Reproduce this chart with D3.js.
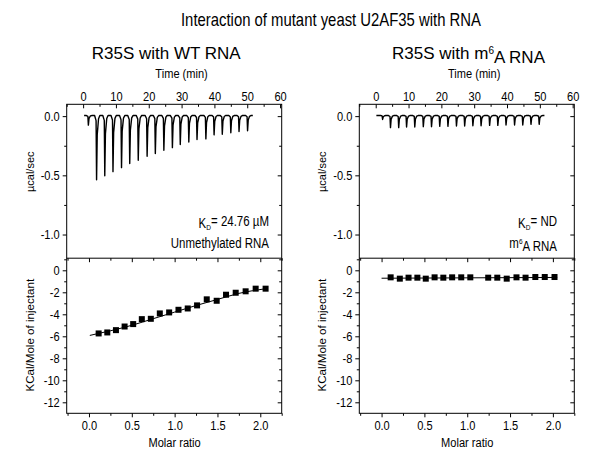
<!DOCTYPE html>
<html lang="en">
<head>
<meta charset="utf-8">
<title>ITC</title>
<script src="https://d3js.org/d3.v7.min.js"></script>
<style>
  body { margin: 0; background: #fff; }
  svg { display: block; }
</style>
</head>
<body>
<script>
// ---- data ----
var timeTicks = [0, 10, 20, 30, 40, 50, 60];
var timeMinor = [-5, 5, 15, 25, 35, 45, 55];
var powerTicks = [0, -0.5, -1.0];
var powerMinor = [-0.25, -0.75];
var heatTicks = [0, -2, -4, -6, -8, -10, -12];
var heatMinor = [1, -1, -3, -5, -7, -9, -11];
var ratioTicks = [0, 0.5, 1.0, 1.5, 2.0];
var ratioMinor = [-0.25, 0.25, 0.75, 1.25, 1.75, 2.25];

// WT RNA raw trace: injection times (min) and peak power (ucal/sec)
var wtInjTime = [1.6, 4.1, 6.6, 9.1, 11.7, 14.2, 16.8, 19.5, 22.0, 24.6, 27.2, 29.6, 32.2, 34.7, 37.4, 39.9, 42.4, 45.0, 47.5, 50.1];
var wtPeak = [-0.076, -0.537, -0.503, -0.469, -0.435, -0.401, -0.373, -0.339, -0.316, -0.288, -0.266, -0.24, -0.218, -0.198, -0.192, -0.158, -0.153, -0.141, -0.130, -0.124];
// WT RNA integrated heats
var wtRatio = [0.113, 0.214, 0.315, 0.416, 0.516, 0.617, 0.722, 0.827, 0.936, 1.045, 1.153, 1.262, 1.375, 1.491, 1.600, 1.713, 1.829, 1.946, 2.062];
var wtHeat = [-5.74, -5.65, -5.44, -5.11, -4.89, -4.44, -4.41, -3.92, -3.83, -3.59, -3.47, -3.19, -2.64, -2.77, -2.22, -2.04, -1.91, -1.67, -1.67];
var wtFitRatio = [0.01, 0.25, 0.5, 0.75, 1.0, 1.25, 1.5, 1.75, 2.06];
var wtFitHeat = [-5.92, -5.5, -5.0, -4.4, -3.8, -3.2, -2.65, -2.1, -1.68];

// m6A RNA raw trace
var m6aInjTime = [2.1, 4.5, 7.0, 9.4, 11.9, 14.5, 17.0, 19.5, 22.0, 24.6, 27.1, 29.6, 32.1, 34.7, 37.2, 39.7, 42.3, 44.8, 47.3, 49.8];
var m6aPeak = [-0.028, -0.097, -0.097, -0.092, -0.092, -0.089, -0.089, -0.086, -0.086, -0.083, -0.083, -0.081, -0.081, -0.078, -0.078, -0.075, -0.075, -0.075, -0.069, -0.069];
// m6A RNA integrated heats
var m6aRatio = [0.106, 0.213, 0.315, 0.418, 0.516, 0.619, 0.721, 0.824, 0.930, 1.036, 1.245, 1.351, 1.461, 1.575, 1.681, 1.795, 1.905, 2.019];
var m6aHeat = [-0.64, -0.76, -0.67, -0.67, -0.76, -0.64, -0.67, -0.64, -0.64, -0.64, -0.67, -0.67, -0.76, -0.64, -0.67, -0.61, -0.61, -0.61];
var m6aFitRatio = [0.0, 2.05];
var m6aFitHeat = [-0.72, -0.65];

var baseline = 0.005;

// ---- layout ----
var w = 592, h = 455;
var pw = 215;
var topY = 104.3, midY = 258.2, botY = 413.3;
var font = "'Liberation Sans', Arial, sans-serif";
var k = 0.82; // the panel lettering is horizontally condensed

var svg = d3.select("body").append("svg")
    .attr("width", w)
    .attr("height", h)
    .attr("font-family", font);

// squeeze text horizontally, keeping its anchor point where it was
function squeeze(sel, f) {
    sel.each(function() {
        var t = d3.select(this);
        var x = +t.attr("x") || 0;
        t.attr("x", x / f).attr("transform", "scale(" + f + ",1)");
    });
}

// plain hyphen for negatives, like the original
function fmt(spec) {
    var f = d3.format(spec);
    return function(d) { return f(d).replace("\u2212", "-"); };
}

svg.append("text")
    .attr("x", 181)
    .attr("y", 25.7)
    .attr("font-size", "17.5px")
    .text("Interaction of mutant yeast U2AF35 with RNA")
    .call(squeeze, 0.85);

var panels = [
    {x0: 66.7, cx: 166.2, title: ["R35S with WT RNA"], inj: wtInjTime, peak: wtPeak,
     ratio: wtRatio, heat: wtHeat, fitR: wtFitRatio, fitH: wtFitHeat,
     kd: "= 24.76 \u00b5M", label: ["Unmethylated RNA"], textRight: 269, start: 0.3, end: 51.7},
    {x0: 359.3, cx: 468.5, title: ["R35S with m", "6", "A RNA"], inj: m6aInjTime, peak: m6aPeak,
     ratio: m6aRatio, heat: m6aHeat, fitR: m6aFitRatio, fitH: m6aFitHeat,
     kd: "= ND", label: ["m", "6", "A RNA"], textRight: 557, start: 0.2, end: 51.4}
];

function supText(sel, parts, supSize) {
    sel.append("tspan").text(parts[0]);
    if (parts.length > 1) {
        sel.append("tspan").attr("font-size", supSize).attr("dy", "-0.5em").text(parts[1]);
        sel.append("tspan").attr("dy", "0.5em").text(parts[2]);
    }
}

function cleanAxis(g) {
    g.select(".domain").remove();
    g.selectAll("text").attr("font-family", font).attr("font-size", "13.5px").attr("fill", "#000")
        .call(squeeze, k);
    g.selectAll("line").attr("stroke", "#000");
}

panels.forEach(function(p) {
    var x1 = p.x0 + pw;
    var g = svg.append("g");

    var xTime = d3.scaleLinear().domain([-5, 60.5]).range([p.x0, x1]);
    var yPow = d3.scaleLinear().domain([-1.2, 0.1]).range([midY, topY]);
    var xRat = d3.scaleLinear().domain([-0.26, 2.25]).range([p.x0, x1]);
    var yHeat = d3.scaleLinear().domain([-13, 1.1]).range([botY, midY]);

    // subtitle
    var st = g.append("text")
        .attr("x", p.cx)
        .attr("y", 59)
        .attr("text-anchor", "middle")
        .attr("font-size", "17px");
    supText(st, p.title, "10px");

    g.append("text")
        .attr("x", xTime(30))
        .attr("y", 78.5)
        .attr("text-anchor", "middle")
        .attr("font-size", "13.5px")
        .text("Time (min)")
        .call(squeeze, k);

    // top axis (time)
    g.append("g").attr("transform", "translate(0," + topY + ")")
        .call(d3.axisTop(xTime).tickValues(timeTicks).tickSize(-4).tickPadding(3).tickFormat(fmt("d")))
        .call(cleanAxis);
    g.append("g").attr("transform", "translate(0," + topY + ")")
        .call(d3.axisTop(xTime).tickValues(timeMinor).tickSize(-2.5).tickFormat(""))
        .call(cleanAxis);

    // power axis left / right
    g.append("g").attr("transform", "translate(" + p.x0 + ",0)")
        .call(d3.axisLeft(yPow).tickValues(powerTicks).tickSize(4).tickPadding(3).tickFormat(fmt(".1f")))
        .call(cleanAxis);
    g.append("g").attr("transform", "translate(" + p.x0 + ",0)")
        .call(d3.axisLeft(yPow).tickValues(powerMinor).tickSize(2.5).tickFormat(""))
        .call(cleanAxis);
    g.append("g").attr("transform", "translate(" + x1 + ",0)")
        .call(d3.axisRight(yPow).tickValues(powerTicks).tickSize(-4).tickFormat(""))
        .call(cleanAxis);
    g.append("g").attr("transform", "translate(" + x1 + ",0)")
        .call(d3.axisRight(yPow).tickValues(powerMinor).tickSize(-2.5).tickFormat(""))
        .call(cleanAxis);

    // heat axis left / right
    g.append("g").attr("transform", "translate(" + p.x0 + ",0)")
        .call(d3.axisLeft(yHeat).tickValues(heatTicks).tickSize(4).tickPadding(3).tickFormat(fmt("d")))
        .call(cleanAxis);
    g.append("g").attr("transform", "translate(" + p.x0 + ",0)")
        .call(d3.axisLeft(yHeat).tickValues(heatMinor).tickSize(2.5).tickFormat(""))
        .call(cleanAxis);
    g.append("g").attr("transform", "translate(" + x1 + ",0)")
        .call(d3.axisRight(yHeat).tickValues(heatTicks).tickSize(-4).tickFormat(""))
        .call(cleanAxis);
    g.append("g").attr("transform", "translate(" + x1 + ",0)")
        .call(d3.axisRight(yHeat).tickValues(heatMinor).tickSize(-2.5).tickFormat(""))
        .call(cleanAxis);

    // ratio axis bottom + top mirror
    g.append("g").attr("transform", "translate(0," + botY + ")")
        .call(d3.axisBottom(xRat).tickValues(ratioTicks).tickSize(4).tickPadding(3).tickFormat(fmt(".1f")))
        .call(cleanAxis);
    g.append("g").attr("transform", "translate(0," + botY + ")")
        .call(d3.axisBottom(xRat).tickValues(ratioMinor).tickSize(2.5).tickFormat(""))
        .call(cleanAxis);
    g.append("g").attr("transform", "translate(0," + midY + ")")
        .call(d3.axisBottom(xRat).tickValues(ratioTicks).tickSize(4).tickFormat(""))
        .call(cleanAxis);
    g.append("g").attr("transform", "translate(0," + midY + ")")
        .call(d3.axisBottom(xRat).tickValues(ratioMinor).tickSize(2.5).tickFormat(""))
        .call(cleanAxis);

    g.append("text")
        .attr("x", xRat(1.0))
        .attr("y", 447.5)
        .attr("text-anchor", "middle")
        .attr("font-size", "13.5px")
        .text("Molar ratio")
        .call(squeeze, k);

    // y labels
    g.append("text")
        .attr("transform", "translate(" + (p.x0 - 33) + "," + yPow(-0.47) + ") rotate(-90)")
        .attr("text-anchor", "middle")
        .attr("font-size", "11px")
        .text("\u00b5cal/sec");
    g.append("text")
        .attr("transform", "translate(" + (p.x0 - 33) + "," + yHeat(-5.9) + ") rotate(-90)")
        .attr("text-anchor", "middle")
        .attr("font-size", "11.6px")
        .text("KCal/Mole of injectant");

    // frames
    g.append("rect").attr("x", p.x0).attr("y", topY).attr("width", pw).attr("height", botY - topY)
        .attr("fill", "none").attr("stroke", "#000").attr("stroke-width", 1);
    g.append("line").attr("x1", p.x0).attr("x2", x1).attr("y1", midY).attr("y2", midY)
        .attr("stroke", "#000").attr("stroke-width", 1);

    // raw trace
    var pts = [[p.start, baseline]];
    p.inj.forEach(function(t, i) {
        var pk = p.peak[i];
        pts.push([t - 0.6, baseline]);
        pts.push([t - 0.15, baseline + (pk - baseline) * 0.08]);
        pts.push([t, pk]);
        pts.push([t + 0.2, baseline + (pk - baseline) * 0.3]);
        pts.push([t + 0.6, baseline + (pk - baseline) * 0.05]);
        pts.push([t + 1.0, baseline]);
    });
    pts.push([p.end, baseline]);
    var line = d3.line().x(function(d) { return xTime(d[0]); }).y(function(d) { return yPow(d[1]); });
    g.append("path").datum(pts).attr("d", line)
        .attr("fill", "none").attr("stroke", "#000").attr("stroke-width", 1.4).attr("stroke-linejoin", "round");

    // fit curve and points
    var fit = p.fitR.map(function(r, i) { return [r, p.fitH[i]]; });
    var fline = d3.line().curve(d3.curveMonotoneX)
        .x(function(d) { return xRat(d[0]); }).y(function(d) { return yHeat(d[1]); });
    g.append("path").datum(fit).attr("d", fline)
        .attr("fill", "none").attr("stroke", "#000").attr("stroke-width", 1);
    g.selectAll("rect.pt").data(p.ratio).enter().append("rect")
        .attr("class", "pt")
        .attr("x", function(d) { return xRat(d) - 3; })
        .attr("y", function(d, i) { return yHeat(p.heat[i]) - 3; })
        .attr("width", 6).attr("height", 6)
        .attr("fill", "#000");

    // annotations
    var kd = g.append("text")
        .attr("x", p.textRight).attr("y", 228)
        .attr("text-anchor", "end")
        .attr("font-size", "14px");
    kd.append("tspan").text("K");
    kd.append("tspan").attr("font-size", "8px").attr("dy", "0.3em").text("D");
    kd.append("tspan").attr("dy", "-0.3em").text(p.kd);
    kd.call(squeeze, k);
    var lb = g.append("text")
        .attr("x", p.textRight).attr("y", 248)
        .attr("text-anchor", "end")
        .attr("font-size", "14px");
    supText(lb, p.label, "8px");
    lb.call(squeeze, k);
});
</script>
</body>
</html>
